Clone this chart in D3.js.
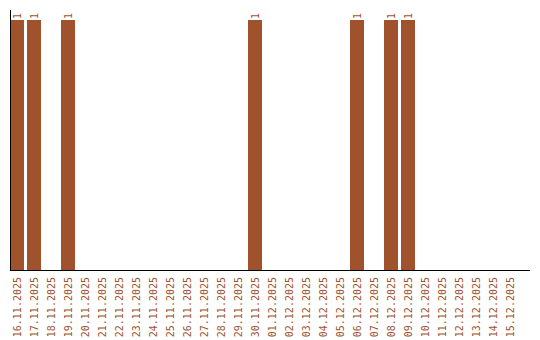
<!DOCTYPE html>
<html><head><meta charset="utf-8">
<script src="https://cdn.jsdelivr.net/npm/d3@7"></script>
<style>body{margin:0;background:#fff}svg{display:block}</style>
</head><body>
<script>
const categories = ["16.11.2025","17.11.2025","18.11.2025","19.11.2025","20.11.2025","21.11.2025","22.11.2025","23.11.2025","24.11.2025","25.11.2025","26.11.2025","27.11.2025","28.11.2025","29.11.2025","30.11.2025","01.12.2025","02.12.2025","03.12.2025","04.12.2025","05.12.2025","06.12.2025","07.12.2025","08.12.2025","09.12.2025","10.12.2025","11.12.2025","12.12.2025","13.12.2025","14.12.2025","15.12.2025"];
const values = [1,1,0,1,0,0,0,0,0,0,0,0,0,0,1,0,0,0,0,0,1,0,1,1,0,0,0,0,0,0];
const color = "#a0522d";

const svg = d3.select("body").append("svg").attr("width",540).attr("height",340);
const x = d3.scaleBand().domain(categories).range([10,517]).paddingInner(3/17).paddingOuter(0);
const y = d3.scaleLinear().domain([0,1]).range([270,20]);

const data = categories.map((c,i)=>({c, v: values[i]}));
svg.selectAll("rect.bar").data(data.filter(d=>d.v>0)).enter().append("rect")
  .attr("x", d=>x(d.c)).attr("width", x.bandwidth())
  .attr("y", d=>y(d.v)).attr("height", d=>y(0)-y(d.v))
  .attr("fill", color);

svg.selectAll("text.val").data(data.filter(d=>d.v>0)).enter().append("text")
  .attr("transform", d=>`translate(${x(d.c)+x.bandwidth()/2+3.5},${y(d.v)-1}) rotate(-90)`)
  .attr("font-family","DejaVu Sans Mono, monospace").attr("font-size",10)
  .attr("fill", color).text(d=>d.v);

// axes lines
svg.append("line").attr("x1",10.5).attr("x2",10.5).attr("y1",10).attr("y2",270).attr("stroke","#000");
svg.append("line").attr("x1",10).attr("x2",530).attr("y1",270.5).attr("y2",270.5).attr("stroke","#000");

svg.selectAll("text.cat").data(categories).enter().append("text")
  .attr("transform", d=>`translate(${x(d)+x.bandwidth()/2+3.5},277) rotate(-90)`)
  .attr("text-anchor","end")
  .attr("font-family","DejaVu Sans Mono, monospace").attr("font-size",10)
  .attr("fill", color).text(d=>d);
</script>
</body></html>
